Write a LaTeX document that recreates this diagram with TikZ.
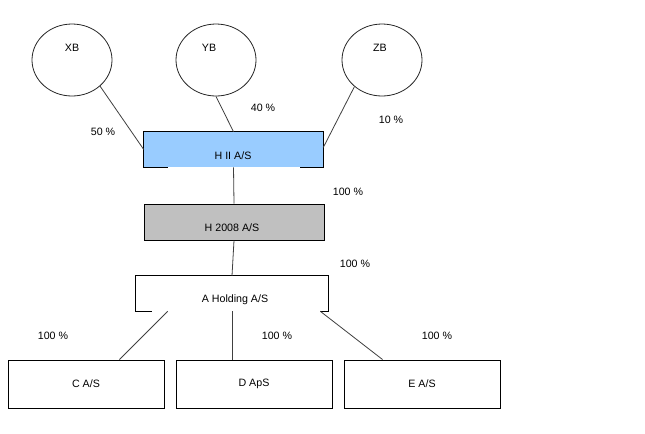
\documentclass[tikz,border=0pt]{standalone}
\usepackage{fontspec}
\setmainfont{Liberation Sans}
\usetikzlibrary{shapes.geometric,calc}
\definecolor{hblue}{RGB}{153,204,255}
\definecolor{hgray}{RGB}{192,192,192}
\definecolor{lgray}{RGB}{64,64,64}
\tikzset{
  x=0.75pt, y=-0.75pt,
  owner/.style={ellipse, draw=black!85, line width=0.6pt, minimum width=60pt, minimum height=54pt, inner sep=0pt},
  boxshape/.style={rectangle, draw=black, line width=0.75pt, inner sep=0pt},
  txt/.style={font=\fontsize{8}{9.6}\selectfont, inner sep=0pt, text=black},
  conn/.style={draw=lgray, line width=0.6pt},
}
\begin{document}
\begin{tikzpicture}
\useasboundingbox[fill=white] (0,0) rectangle (645,433);
% owners
\node[owner] (xb) at (72,60) {};
\node[owner] (yb) at (216,60) {};
\node[owner] (zb) at (382,60) {};
\node[txt] (xbt) at (72,48) {XB};
\node[txt] (ybt) at (209,48) {YB};
\node[txt] (zbt) at (380,48) {ZB};
% H II A/S
\node[rectangle, fill=hblue, minimum width=134.25pt, minimum height=26.25pt, inner sep=0pt] (h2) at (233.5,149.5) {};
\draw[black, line width=0.75pt] ($(h2.south west)+(24,0)$) -- (h2.south west) -- (h2.north west) -- (h2.north east) -- (h2.south east) -- ($(h2.south east)+(-23,0)$);
\node[txt] (h2t) at (233,156) {H II A/S};
% H 2008 A/S
\node[boxshape, fill=hgray, minimum width=135pt, minimum height=27pt] (h08) at (234,222) {};
\node[txt] (h08t) at (232,228) {H 2008 A/S};
% A Holding A/S
\node[rectangle, fill=white, minimum width=144pt, minimum height=26.25pt, inner sep=0pt] (ah) at (232,293.5) {};
\draw[black, line width=0.75pt] ($(ah.south west)+(16,0)$) -- (ah.south west) -- (ah.north west) -- (ah.north east) -- (ah.south east) -- ($(ah.south east)+(-8,0)$);
\node[txt] (aht) at (235,300) {A Holding A/S};
% subsidiaries
\node[boxshape, minimum width=117pt, minimum height=36pt] (c) at (86,384) {};
\node[boxshape, minimum width=117pt, minimum height=36pt] (d) at (254,384) {};
\node[boxshape, minimum width=117pt, minimum height=36pt] (e) at (422,384) {};
\node[txt] (ct) at (86,384) {C A/S};
\node[txt] (dt) at (254,384) {D ApS};
\node[txt] (et) at (422,384) {E A/S};
% connectors
\draw[conn] (xb.-43) -- (h2.west);
\draw[conn] (yb.south) -- (h2.north);
\draw[conn] (zb.-136) -- ($(h2.east)+(0,-2)$);
\draw[conn] (h2.south) -- (h08.north);
\draw[conn] (h08.south) -- (ah.north);
\draw[conn] ($(ah.south west)+(32,0)$) -- ($(c.north west)+(112,0)$);
\draw[conn] (ah.south) -- (ah.south |- d.north);
\draw[conn] ($(ah.south east)+(-8,0)$) -- ($(e.north west)+(39,0)$);
% percentages
\node[txt] (p50) at (103,132) {50 \%};
\node[txt] (p40) at (263,108) {40 \%};
\node[txt] (p10) at (391,120) {10 \%};
\node[txt] (p100a) at (348,192) {100 \%};
\node[txt] (p100b) at (355,264) {100 \%};
\node[txt] (p100c) at (53,336) {100 \%};
\node[txt] (p100d) at (277,336) {100 \%};
\node[txt] (p100e) at (437,336) {100 \%};
\end{tikzpicture}
\end{document}
